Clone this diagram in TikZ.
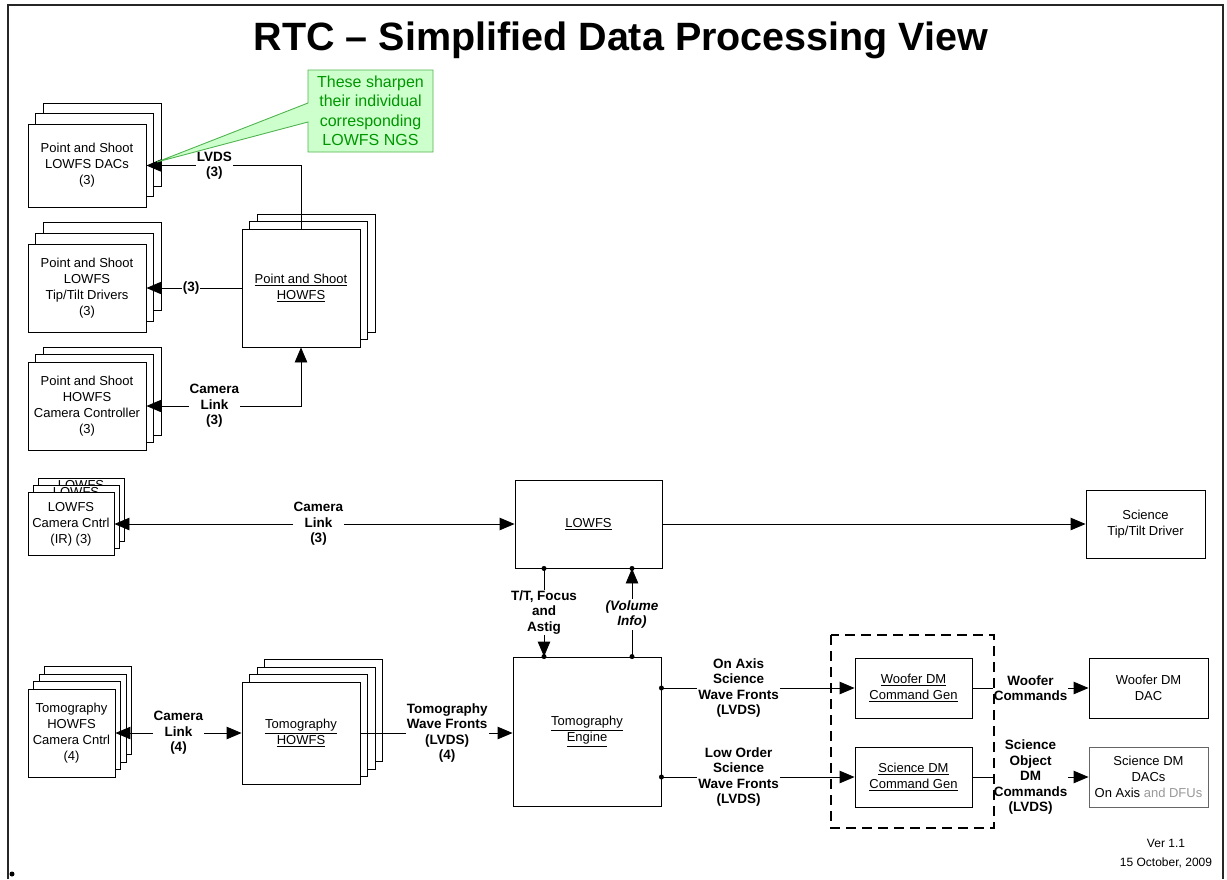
\documentclass[tikz,border=0pt]{standalone}
\usepackage{fontspec}
\setmainfont{Liberation Sans}
\usetikzlibrary{arrows.meta}

\definecolor{notefill}{RGB}{204,255,204}
\definecolor{noteline}{RGB}{80,180,80}
\definecolor{notetext}{RGB}{0,150,0}

\begin{document}
\begin{tikzpicture}[x=1pt,y=-1pt,line width=0.9pt,
  box/.style={draw,fill=white,align=center,inner sep=2pt,font=\fontsize{13}{16}\selectfont},
  lbl/.style={fill=white,align=center,inner sep=1pt,font=\bfseries\fontsize{13.5}{15.5}\selectfont},
  arr/.style={-{Triangle[length=15pt,width=12.5pt]}},
  darr/.style={{Triangle[length=15pt,width=12.5pt]}-{Triangle[length=15pt,width=12.5pt]}}]
\useasboundingbox (0,0) rectangle (1227,879);

\draw[line width=1.5pt,black!85] (8,879) -- (8,5) -- (1223,5) -- (1223,879);
\fill (12,874) circle (2.5);

\node[anchor=base,font=\bfseries\fontsize{39.5}{44}\selectfont] (title) at (621,50) {RTC \textendash{} Simplified Data Processing View};

\draw[fill=white] (43,103) rectangle (161,186);
\draw[fill=white] (35.5,113.5) rectangle (153.5,196.5);
\node[box,minimum width=118,minimum height=83] (dacs) at (87,165.5) {Point and Shoot\\LOWFS DACs\\(3)};

\draw[fill=white] (43,222) rectangle (161,310);
\draw[fill=white] (35.5,233) rectangle (153.5,321);
\node[box,minimum width=118,minimum height=88] (tiptilt) at (87,288) {Point and Shoot\\LOWFS\\Tip/Tilt Drivers\\(3)};

\draw[fill=white] (43,347) rectangle (161,435);
\draw[fill=white] (35.5,354.5) rectangle (153.5,442.5);
\node[box,minimum width=118,minimum height=88] (camctrl) at (87,406) {Point and Shoot\\HOWFS\\Camera Controller\\(3)};

\draw[fill=white] (257,214) rectangle (375,332);
\draw[fill=white] (249.5,221.5) rectangle (367.5,339.5);
\node[box,minimum width=118,minimum height=118] (pshowfs) at (301,288) {\underline{Point and Shoot}\\\underline{HOWFS}};

\draw[fill=white] (38,478.5) rectangle (124,541.5);
\node[font=\fontsize{13}{16}\selectfont] (lowtxtc) at (81,485) {LOWFS};
\draw[fill=white] (33,485.5) rectangle (119,548.5);
\node[font=\fontsize{13}{16}\selectfont] (lowtxtb) at (76,492) {LOWFS};
\node[box,minimum width=86,minimum height=63] (lowcam) at (71,524) {LOWFS\\Camera Cntrl\\(IR) (3)};

\node[box,minimum width=147,minimum height=88] (lowfs) at (588.5,524) {\underline{LOWFS}};
\node[box,minimum width=119,minimum height=68] (scitt) at (1145.5,524) {Science\\Tip/Tilt Driver};

\draw[fill=white] (44.5,666.5) rectangle (131.5,754.5);
\draw[fill=white] (39,674) rectangle (126,762);
\draw[fill=white] (33.5,681.5) rectangle (120.5,769.5);
\node[box,minimum width=87,minimum height=88] (tcam) at (71.5,733) {Tomography\\HOWFS\\Camera Cntrl\\(4)};

\draw[fill=white] (264.5,659.5) rectangle (382.5,761.5);
\draw[fill=white] (257,667) rectangle (375,769);
\draw[fill=white] (249.5,674.5) rectangle (367.5,776.5);
\node[box,minimum width=118,minimum height=102] (thowfs) at (301,733) {\underline{Tomography}\\\underline{HOWFS}};

\node[box,minimum width=148,minimum height=149] (engine) at (587,731.5) {\underline{Tomography}\\\underline{Engine}};
\node[box,minimum width=117,minimum height=60] (wgen) at (913.5,688) {\underline{Woofer DM}\\\underline{Command Gen}};
\node[box,minimum width=117,minimum height=60] (sgen) at (913.5,777) {\underline{Science DM}\\\underline{Command Gen}};
\node[box,minimum width=119,minimum height=60] (wdac) at (1148.5,688) {Woofer DM\\DAC};
\node[box,draw=black!60,minimum width=119,minimum height=60] (sdac) at (1148.5,777) {Science DM\\DACs\\On Axis \textcolor{black!40}{and DFUs}};

\coordinate (tt) at (544,600);
\coordinate (vol) at (632,600);

\draw[arr] (pshowfs.north) |- (dacs.east) node[lbl,pos=0.78] {LVDS\\(3)};
\draw[arr] (pshowfs.west) -- (tiptilt.east) node[lbl,pos=0.53] {(3)};
\draw[darr] (camctrl.east) -| (pshowfs.south) node[lbl,pos=0.22] {Camera\\Link\\(3)};
\draw[darr] (lowcam.east) -- (lowfs.west) node[lbl,pos=0.51] {Camera\\Link\\(3)};
\draw[arr] (lowfs.east) -- (scitt.west);
\draw[arr] (lowfs.south -| tt) -- (engine.north -| tt) node[lbl,midway] {T/T, Focus\\and\\Astig};
\draw[arr] (engine.north -| vol) -- (lowfs.south -| vol) node[lbl,midway,yshift=-2pt,font=\bfseries\itshape\fontsize{13.5}{15.5}\selectfont] {(Volume\\Info)};
\draw[darr] (tcam.east) -- (thowfs.west) node[lbl,midway] {Camera\\Link\\(4)};
\draw[arr] (thowfs.east) -- (engine.west |- thowfs.east) node[lbl,pos=0.57] {Tomography\\Wave Fronts\\(LVDS)\\(4)};
\draw[arr] (engine.east |- wgen.west) -- (wgen.west) node[lbl,pos=0.4] {On Axis\\Science\\Wave Fronts\\(LVDS)};
\draw[arr] (engine.east |- sgen.west) -- (sgen.west) node[lbl,pos=0.4] {Low Order\\Science\\Wave Fronts\\(LVDS)};
\draw[arr] (wgen.east) -- (wdac.west) node[lbl,pos=0.5] {Woofer\\Commands};
\draw[arr] (sgen.east) -- (sdac.west) node[lbl,pos=0.5] {Science\\Object\\DM\\Commands\\(LVDS)};

\fill (lowfs.south -| tt) circle (2.5);
\fill (engine.north -| tt) circle (2.5);
\fill (lowfs.south -| vol) circle (2.5);
\fill (engine.north -| vol) circle (2.5);
\fill (engine.east |- wgen.west) circle (2.5);
\fill (engine.east |- sgen.west) circle (2.5);

\draw[line width=2.5pt,dash pattern=on 10pt off 6pt] (831,635) rectangle (994,828);

\draw[draw=noteline,fill=notefill] (308,70) -- (433,70) -- (433,152) -- (308,152) -- (308,122) -- (157,162) -- (308,103) -- cycle;
\node[text=notetext,align=center,font=\fontsize{16}{19.5}\selectfont] (note) at (370.5,111) {These sharpen\\their individual\\corresponding\\LOWFS NGS};

\node[align=center,font=\fontsize{12}{19}\selectfont] (ver) at (1166,854) {Ver 1.1\\15 October, 2009};
\end{tikzpicture}
\end{document}
